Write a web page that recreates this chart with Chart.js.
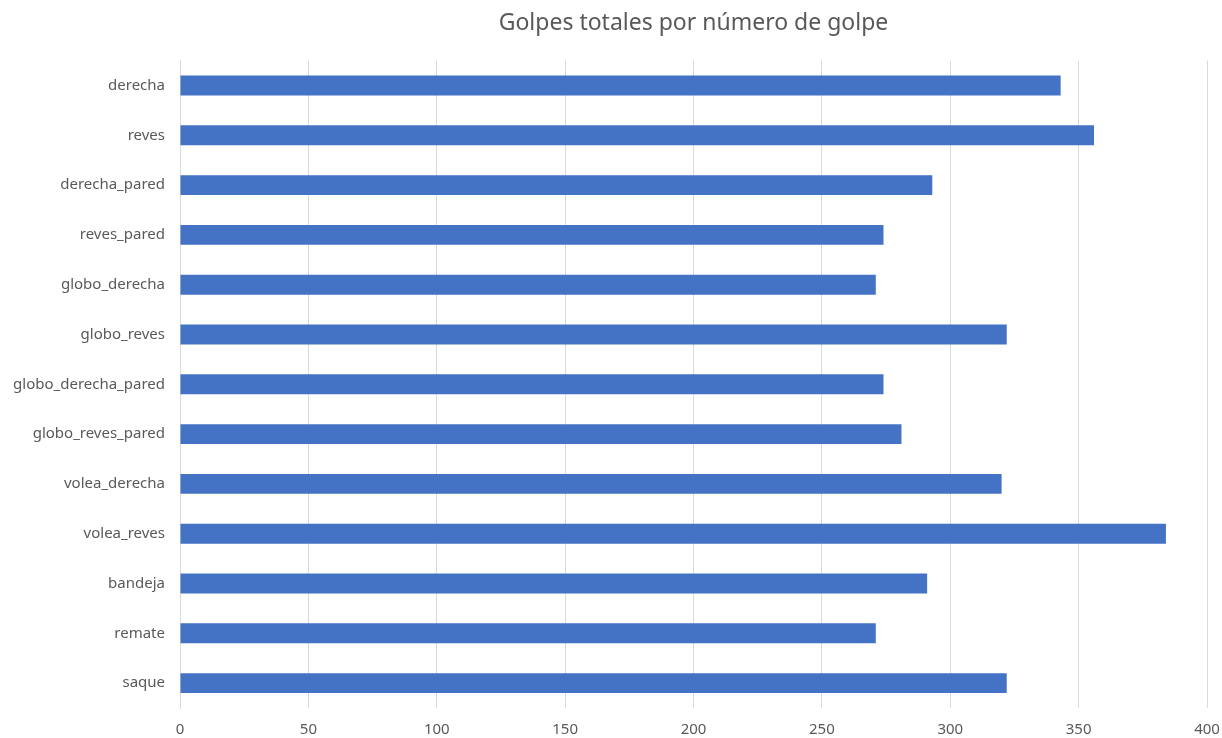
<!DOCTYPE html>
<html>
<head>
<meta charset="utf-8">
<title>Golpes totales por número de golpe</title>
<script src="https://cdn.jsdelivr.net/npm/chart.js@4/dist/chart.umd.min.js"></script>
<style>
  html, body { margin: 0; padding: 0; background: #fff; }
  #wrap { width: 1222px; height: 738px; position: relative; }
</style>
</head>
<body>
<div id="wrap"><canvas id="canvas"></canvas></div>
<script>
  'use strict'

  // tipos de golpe y total de golpes de cada uno
  var golpes = ['derecha', 'reves', 'derecha_pared', 'reves_pared', 'globo_derecha', 'globo_reves',
    'globo_derecha_pared', 'globo_reves_pared', 'volea_derecha', 'volea_reves', 'bandeja', 'remate', 'saque']
  var totales = [343, 356, 293, 274, 271, 322, 274, 281, 320, 384, 291, 271, 322]
  var ticksX = [0, 50, 100, 150, 200, 250, 300, 350, 400]

  var gris = '#595959'
  var fuente = "'Noto Sans', 'Open Sans', sans-serif"

  var context = document.getElementById('canvas').getContext('2d')
  new Chart(context, {
    type: 'bar',
    data: {
      labels: golpes,
      datasets: [{
        label: 'Golpes',
        backgroundColor: '#4472C4',
        borderWidth: 0,
        barPercentage: 0.8,
        categoryPercentage: 0.5,
        data: totales
      }]
    },
    options: {
      indexAxis: 'y',
      responsive: true,
      maintainAspectRatio: false,
      animation: false,
      layout: {
        padding: { left: 0, right: 15, top: 0, bottom: 0 }
      },
      plugins: {
        legend: { display: false },
        tooltip: { enabled: false },
        title: {
          display: true,
          fullSize: false,
          text: 'Golpes totales por número de golpe',
          color: gris,
          font: { family: fuente, size: 23, weight: 'normal' },
          padding: { top: 10, bottom: 23 }
        }
      },
      scales: {
        x: {
          min: ticksX[0],
          max: ticksX[ticksX.length - 1],
          afterBuildTicks: function (scale) {
            scale.ticks = ticksX.map(function (v) { return { value: v } })
          },
          afterFit: function (scale) {
            scale.height = 30
            scale.paddingLeft = 0
            scale.paddingRight = 0
          },
          grid: { color: '#d9d9d9', drawTicks: false },
          border: { display: false },
          ticks: {
            color: gris,
            padding: 13,
            font: { family: fuente, size: 15 }
          }
        },
        y: {
          afterFit: function (scale) { scale.width = 180 },
          grid: { display: false, drawTicks: false },
          border: { display: true, color: '#d9d9d9' },
          ticks: {
            color: gris,
            padding: 15,
            font: { family: fuente, size: 15 }
          }
        }
      }
    }
  })
</script>
</body>
</html>
